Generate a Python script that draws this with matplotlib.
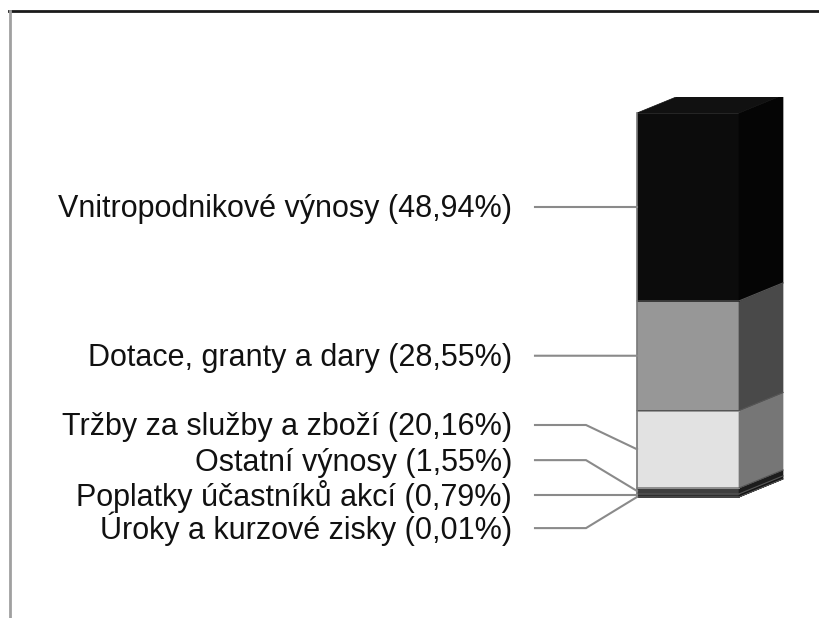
import matplotlib
matplotlib.use("Agg")
import matplotlib.pyplot as plt
from matplotlib.patches import Polygon, Rectangle
from matplotlib.lines import Line2D
import numpy as np

# ---- data ----
categories = [
    "Úroky a kurzové zisky",
    "Poplatky účastníků akcí",
    "Ostatní výnosy",
    "Tržby za služby a zboží",
    "Dotace, granty a dary",
    "Vnitropodnikové výnosy",
]
shares = [0.01, 0.79, 1.55, 20.16, 28.55, 48.94]
value_labels = ["0,01%", "0,79%", "1,55%", "20,16%", "28,55%", "48,94%"]

# ---- style ----
front_colors = ["#000000", "#2e2e2e", "#3e3e3e", "#e2e2e2", "#979797", "#0c0c0c"]
side_colors = ["#000000", "#151515", "#1c1c1c", "#767676", "#494949", "#050505"]
top_color = "#111111"
# label line heights (in % axis units)
label_y = [-8.1, 0.405, 9.6, 18.75, 36.79, 75.53]

W, H = 819, 618
fig = plt.figure(figsize=(W / 100, H / 100), dpi=100)
ax = fig.add_axes([0, 0, 1, 1])
px_per_pct = 3.84
base_px = 121  # y=0 from bottom in px
ax.set_xlim(0, W)
ax.set_ylim(-base_px / px_per_pct, (H - base_px) / px_per_pct)
ax.axis("off")

x0, x1 = 637, 739
dx = 44
dy = 18 / px_per_pct
clip_top = (H - base_px - 97) / px_per_pct  # plot area top
clip = Rectangle((0, -100), W, clip_top + 100, transform=ax.transData, visible=False)
ax.add_patch(clip)

cum = np.concatenate([[0], np.cumsum(shares)])
for i in range(len(shares)):
    b, t = cum[i], cum[i + 1]
    front = Polygon([(x0, b), (x1, b), (x1, t), (x0, t)], closed=True,
                    facecolor=front_colors[i], edgecolor=front_colors[i], lw=0.5)
    side = Polygon([(x1, b), (x1 + dx, b + dy), (x1 + dx, t + dy), (x1, t)], closed=True,
                   facecolor=side_colors[i], edgecolor=side_colors[i], lw=0.5)
    for p in (front, side):
        ax.add_patch(p)
        p.set_clip_path(clip)
    if i > 0:
        ax.plot([x0, x1, x1 + dx], [b, b, b + dy], color="#555555", lw=0.8, clip_path=clip)

top = Polygon([(x0, cum[-1]), (x1, cum[-1]), (x1 + dx, cum[-1] + dy), (x0 + dx, cum[-1] + dy)],
              closed=True, facecolor=top_color, edgecolor=top_color, lw=0.5)
ax.add_patch(top)
top.set_clip_path(clip)
ax.plot([x0, x0], [0, cum[-1]], color="#777777", lw=1.2, clip_path=clip)

# labels and leaders
lx_text, lx0, lx_elbow = 512, 535, 586
for i, cat in enumerate(categories):
    mid = (cum[i] + cum[i + 1]) / 2
    ly = label_y[i]
    ax.plot([lx0, lx_elbow, x0], [ly, ly, mid], color="#8a8a8a", lw=1.5,
            solid_joinstyle="miter")
    ax.text(lx_text, ly - 10.5 / px_per_pct, f"{cat} ({value_labels[i]})",
            ha="right", va="baseline", fontsize=22, family="Liberation Sans",
            color="#111111")

# frame lines
fig.add_artist(Line2D([9 / W, 1], [1 - 11 / H, 1 - 11 / H], color="#1a1a1a", lw=2.0,
                      transform=fig.transFigure))
fig.add_artist(Line2D([10 / W, 10 / W], [0, 1 - 11 / H], color="#a0a0a0", lw=2.0,
                      transform=fig.transFigure))

fig.savefig("out.png", dpi=100, facecolor="white")
